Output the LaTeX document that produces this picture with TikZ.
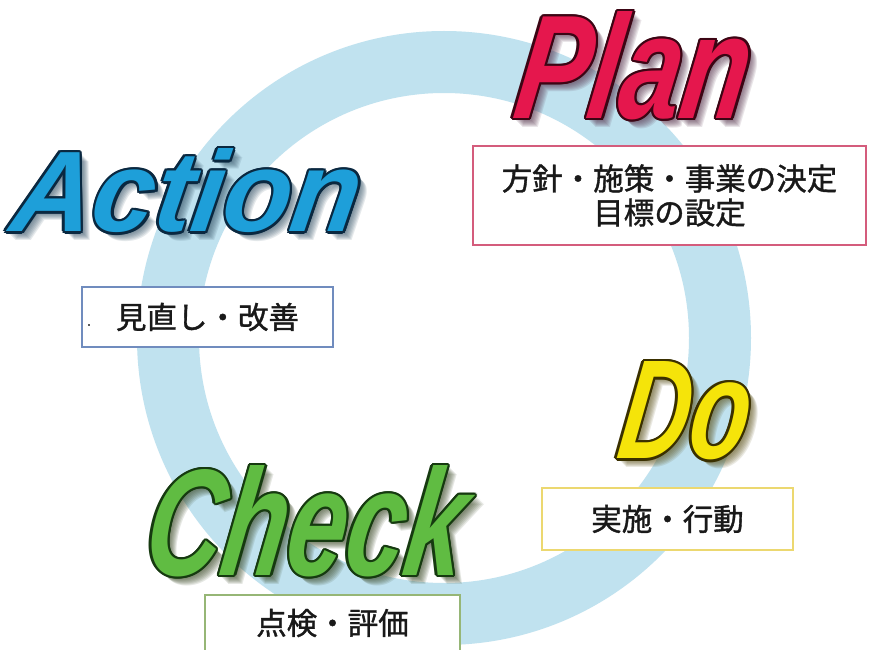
\documentclass[tikz,border=0pt]{standalone}
\usepackage{fontspec}
\newfontfamily\bigfont{Liberation Sans}
\newfontfamily\jp{Noto Sans CJK JP}[FakeBold=1.2]
\usetikzlibrary{calc}
\definecolor{ringblue}{RGB}{192,226,239}
\definecolor{planfill}{RGB}{229,23,77}
\definecolor{planout}{RGB}{60,5,20}
\definecolor{planshadow}{RGB}{90,55,80}
\definecolor{actfill}{RGB}{30,159,217}
\definecolor{actout}{RGB}{10,40,64}
\definecolor{actshadow}{RGB}{55,85,105}
\definecolor{chkfill}{RGB}{96,188,66}
\definecolor{chkout}{RGB}{22,58,16}
\definecolor{chkshadow}{RGB}{60,75,40}
\definecolor{dofill}{RGB}{245,228,10}
\definecolor{doout}{RGB}{58,48,0}
\definecolor{doshadow}{RGB}{95,85,30}
\definecolor{planborder}{RGB}{212,92,124}
\definecolor{actborder}{RGB}{112,140,190}
\definecolor{chkborder}{RGB}{150,182,118}
\definecolor{doborder}{RGB}{236,216,112}
\definecolor{jtext}{RGB}{25,25,25}
\newcommand\WordText[3]{\resizebox{#1pt}{#2pt}{\bigfont\bfseries\itshape\fontsize{100}{100}\selectfont #3}}
% name, x, y, width, height, fill, outline, shadow, text
\newcommand\BigWord[9]{%
  \foreach \s in {1,...,8}
    \node[wordnode,text=#8,opacity=0.13] (#1s\s) at (#2+\s+1,#3+\s+1) {\WordText{#4}{#5}{#9}};
  \foreach \a in {0,30,...,330}
    \node[wordnode,text=#7] (#1o\a) at ($(#2,#3)+(\a:2.4)$) {\WordText{#4}{#5}{#9}};
  \node[wordnode,text=#6] (#1) at (#2,#3) {\WordText{#4}{#5}{#9}};
}
\begin{document}
\begin{tikzpicture}[x=1pt,y=-1pt,
  wordnode/.style={anchor=south west,inner sep=0pt,outer sep=0pt,xslant=0.15,transform shape},
  jbox/.style={draw,fill=white,line width=2pt,inner sep=0pt,align=center,
    text=jtext,font=\jp\fontsize{30.5}{34}\selectfont}]
\useasboundingbox (0,0) rectangle (871,650);
\clip (0,0) rectangle (871,650);
\fill[white] (0,0) rectangle (871,650);
% cycle ring
\fill[ringblue,even odd rule] (444,338) circle[radius=307pt] (444,338) circle[radius=245pt];
% big words
\BigWord{plan}{511}{120}{233}{107}{planfill}{planout}{planshadow}{Plan}
\BigWord{action}{8}{233}{348}{83}{actfill}{actout}{actshadow}{Action}
\BigWord{check}{141}{577}{318}{110}{chkfill}{chkout}{chkshadow}{Check}
\BigWord{do}{615}{460}{129}{97}{dofill}{doout}{doshadow}{Do}
% boxes
\node[jbox,draw=planborder,minimum width=393pt,minimum height=99pt] (planbox) at (669.5,195.5) {方針・施策・事業の決定\\目標の設定};
\node[jbox,draw=actborder,minimum width=251pt,minimum height=60pt] (actbox) at (207.5,317) {見直し・改善};
\node[text=jtext,font=\jp\fontsize{12}{12}\selectfont,inner sep=0pt] (actdot) at (89,325) {.};
\node[jbox,draw=doborder,minimum width=251pt,minimum height=62pt] (dobox) at (667.5,519) {実施・行動};
\node[jbox,draw=chkborder,minimum width=255pt,minimum height=56pt] (chkbox) at (332.5,623) {点検・評価};
\end{tikzpicture}
\end{document}
